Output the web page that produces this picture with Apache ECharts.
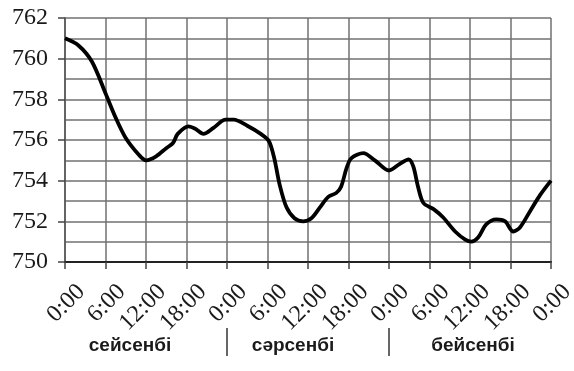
<!DOCTYPE html>
<html>
<head>
<meta charset="utf-8">
<script src="https://cdn.jsdelivr.net/npm/echarts@6/dist/echarts.min.js"></script>
<style>
html,body{margin:0;padding:0;background:#fff;}
#c{width:574px;height:371px;}
</style>
</head>
<body>
<div id="c"></div>
<script>
// hours from start of the first day
var hours = [0, 2, 4, 6, 7.5, 9, 11, 12, 13.5, 15, 16, 16.7, 18.3, 19.3, 20.5, 22, 23.8, 25, 27, 29, 30.2, 31, 31.8, 32.8, 34, 35.3, 36.5, 37.8, 39, 40.2, 40.9, 41.7, 42.4, 44.2, 45.9, 48, 49.5, 50.9, 51.6, 52.3, 53.1, 54.6, 56, 57.8, 59.3, 60.2, 61.2, 62.4, 63.9, 65.2, 66.4, 67.4, 68.9, 70.4, 72];
// pressure, mm Hg
var pressure = [761.0, 760.65, 759.85, 758.3, 757.1, 756.1, 755.25, 755.0, 755.2, 755.6, 755.85, 756.3, 756.67, 756.55, 756.3, 756.6, 757.0, 757.0, 756.7, 756.3, 755.95, 755.1, 753.8, 752.7, 752.15, 752.0, 752.15, 752.7, 753.2, 753.4, 753.7, 754.6, 755.1, 755.35, 755.0, 754.5, 754.8, 755.05, 754.7, 753.7, 752.9, 752.6, 752.2, 751.5, 751.1, 751.0, 751.2, 751.85, 752.1, 752.0, 751.5, 751.7, 752.5, 753.3, 754.0];
var xTickLabels = ['0:00', '6:00', '12:00', '18:00', '0:00', '6:00', '12:00', '18:00', '0:00', '6:00', '12:00', '18:00', '0:00'];
var yTickLabels = [750, 752, 754, 756, 758, 760, 762];
var days = ['сейсенбі', 'сәрсенбі', 'бейсенбі'];

var chart = echarts.init(document.getElementById('c'), null, {renderer: 'canvas'});
var gridColor = '#707070';
var data = hours.map(function (h, i) { return [h, pressure[i]]; });

chart.setOption({
  animation: false,
  backgroundColor: '#fff',
  grid: {left: 65, right: 23, top: 18, bottom: 109, containLabel: false, outerBoundsMode: 'none'},
  xAxis: {
    type: 'value', min: 0, max: 72, interval: 6,
    axisLine: {show: true, onZero: false, lineStyle: {color: '#222', width: 2}},
    axisTick: {show: true, length: 7, lineStyle: {color: '#444', width: 1.5}},
    splitLine: {show: true, lineStyle: {color: gridColor, width: 1.5}},
    axisLabel: {
      rotate: 45, margin: 10, verticalAlign: 'top', padding: [11, 0, 0, 0],
      fontFamily: 'Liberation Serif', fontSize: 24, color: '#1a1a1a',
      formatter: function (v) { return xTickLabels[Math.round(v / 6)]; }
    }
  },
  yAxis: [{
    type: 'value', min: 750, max: 762, interval: 1,
    axisLine: {show: false},
    axisTick: {show: false},
    axisLabel: {show: false},
    splitLine: {show: true, lineStyle: {color: gridColor, width: 1.5}}
  }, {
    type: 'value', min: 750, max: 762, interval: 2, position: 'left',
    axisLine: {show: true, lineStyle: {color: '#555', width: 1.5}},
    axisTick: {show: true, length: 7, lineStyle: {color: '#444', width: 1.5}},
    splitLine: {show: false},
    axisLabel: {
      margin: 17, fontFamily: 'Liberation Serif', fontSize: 24, color: '#1a1a1a',
      formatter: function (v) { return yTickLabels.indexOf(v) >= 0 ? String(v) : ''; }
    }
  }],
  series: [{
    type: 'line', data: data, smooth: 0.3, showSymbol: false, yAxisIndex: 0,
    lineStyle: {color: '#000', width: 3.8}
  }]
});

var ySep1 = 328, ySep2 = 356, yText = 346;
var s1 = chart.convertToPixel({xAxisIndex: 0}, 24);
var s2 = chart.convertToPixel({xAxisIndex: 0}, 48);
var x0 = chart.convertToPixel({xAxisIndex: 0}, 0);
var x3 = chart.convertToPixel({xAxisIndex: 0}, 72);
var textX = [(x0 + s1) / 2 - 16, (s1 + s2) / 2 - 15, (s2 + x3) / 2 + 3];
var g = [];
[s1, s2].forEach(function (sx) {
  g.push({type: 'line', shape: {x1: sx, y1: ySep1, x2: sx, y2: ySep2}, style: {stroke: '#333', lineWidth: 1.5}});
});
days.forEach(function (d, i) {
  g.push({type: 'text', x: textX[i], y: yText, style: {text: d, fontFamily: 'Liberation Sans', fontWeight: 'bold', fontSize: 19, fill: '#1a1a1a', align: 'center', verticalAlign: 'middle'}});
});
chart.setOption({graphic: g});
</script>
</body>
</html>
